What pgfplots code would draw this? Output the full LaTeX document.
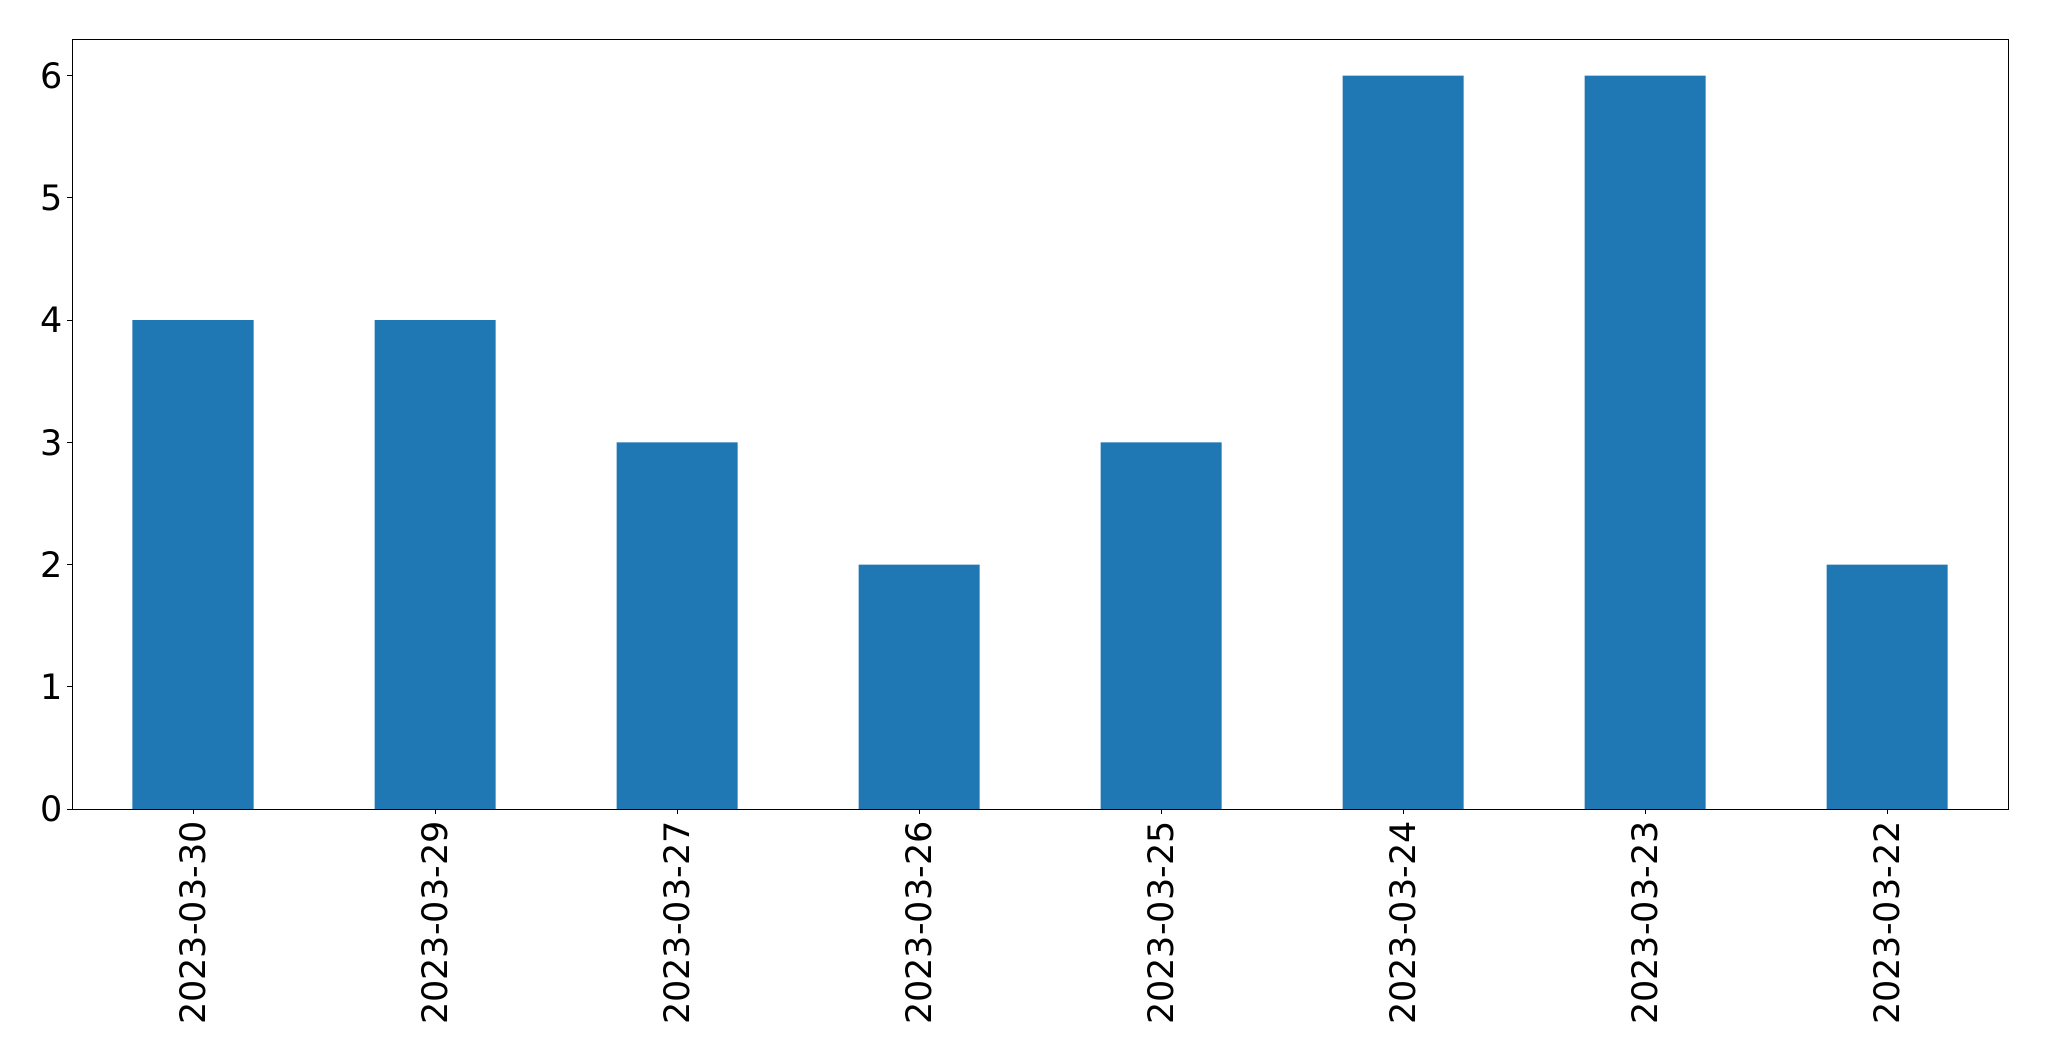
\documentclass[border=0pt]{standalone}
\usepackage{fontspec}
\setmainfont{DejaVu Sans}
\usepackage{pgfplots}
\pgfplotsset{compat=1.18}
\definecolor{mplblue}{HTML}{1F77B4}
\begin{document}
\begin{tikzpicture}
\begin{axis}[
  scale only axis,
  width=968pt, height=385pt,
  xmin=-0.5, xmax=7.5, ymin=0, ymax=6.3,
  xtick={0,...,7},
  xticklabels={2023-03-30,2023-03-29,2023-03-27,2023-03-26,2023-03-25,2023-03-24,2023-03-23,2023-03-22},
  ytick={0,1,2,3,4,5,6},
  xtick pos=bottom, ytick pos=left,
  tick align=outside,
  major tick length=2.5pt,
  tick style={black, line width=0.4pt},
  axis line style={black, line width=0.4pt},
  /pgf/number format/assume math mode=true,
  ticklabel style={font=\fontsize{17.5}{20}\selectfont},
  x tick label style={rotate=90, anchor=east, inner sep=3.5pt},
  y tick label style={inner sep=2pt},
]
\addplot[ybar, bar width=0.5, fill=mplblue, draw=none, bar shift=0pt] coordinates {
  (0,4) (1,4) (2,3) (3,2) (4,3) (5,6) (6,6) (7,2)
};
\end{axis}
\path (current axis.south west) ++(-36pt,-126pt) rectangle ([shift={(20.5pt,19.5pt)}]current axis.north east);
\end{tikzpicture}
\end{document}
